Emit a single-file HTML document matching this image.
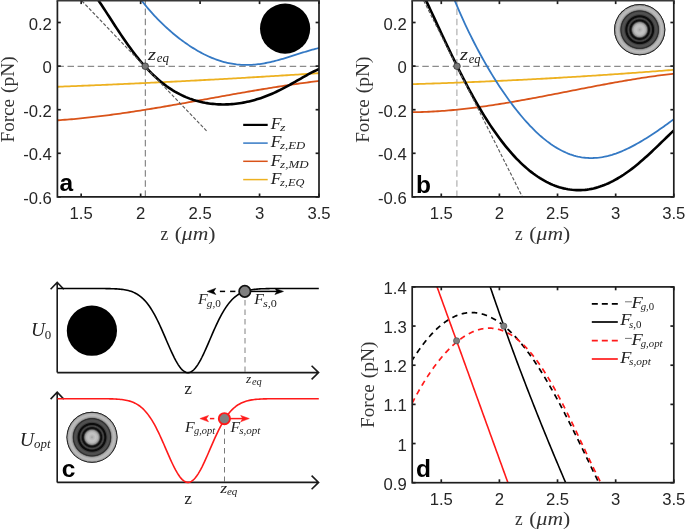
<!DOCTYPE html>
<html><head><meta charset="utf-8"><style>
html,body{margin:0;padding:0;background:#fff;}
body{width:685px;height:530px;overflow:hidden;position:relative;}
svg{position:absolute;left:0;top:0;will-change:transform;}
.tk text{font-family:"Liberation Sans",sans-serif;font-size:16.7px;fill:#262626;}
.sr{font-family:"Liberation Serif",serif;fill:#333;}
.it{font-family:"Liberation Serif",serif;font-style:italic;fill:#222;}
.bd{font-family:"Liberation Sans",sans-serif;font-weight:bold;fill:#000;}
</style></head><body>
<svg width="685" height="530" viewBox="0 0 685 530">
<defs>
<clipPath id="ca"><rect x="57.4" y="0.7" width="261.60" height="196.20"/></clipPath>
<clipPath id="cb"><rect x="412.2" y="0.7" width="261.60" height="196.20"/></clipPath>
<clipPath id="cd"><rect x="412.2" y="286.9" width="261.60" height="195.80"/></clipPath>
<radialGradient id="rg" cx="0.5" cy="0.5" r="0.5">
<stop offset="0" stop-color="#a0a0a0"/>
<stop offset="0.05" stop-color="#b4b4b4"/>
<stop offset="0.14" stop-color="#c4c4c4"/>
<stop offset="0.22" stop-color="#b8b8b8"/>
<stop offset="0.28" stop-color="#8e8e8e"/>
<stop offset="0.31" stop-color="#4a4a4a"/>
<stop offset="0.34" stop-color="#151515"/>
<stop offset="0.38" stop-color="#0c0c0c"/>
<stop offset="0.41" stop-color="#303030"/>
<stop offset="0.445" stop-color="#4a4a4a"/>
<stop offset="0.475" stop-color="#2e2e2e"/>
<stop offset="0.5" stop-color="#0c0c0c"/>
<stop offset="0.545" stop-color="#0c0c0c"/>
<stop offset="0.58" stop-color="#3c3c3c"/>
<stop offset="0.63" stop-color="#525252"/>
<stop offset="0.69" stop-color="#4c4c4c"/>
<stop offset="0.725" stop-color="#2c2c2c"/>
<stop offset="0.745" stop-color="#383838"/>
<stop offset="0.77" stop-color="#8c8c8c"/>
<stop offset="0.8" stop-color="#aaaaaa"/>
<stop offset="0.86" stop-color="#bdbdbd"/>
<stop offset="0.92" stop-color="#b0b0b0"/>
<stop offset="0.955" stop-color="#a0a0a0"/>
<stop offset="0.965" stop-color="#c8c8c8"/>
<stop offset="0.975" stop-color="#444"/>
<stop offset="1.0" stop-color="#1c1c1c"/>
</radialGradient>
</defs>
<g clip-path="url(#ca)" fill="none">
<line x1="57.4" y1="66.3" x2="319.0" y2="66.3" stroke="#6e6e6e" stroke-width="1" stroke-dasharray="6.5 3.6"/>
<line x1="145.3" y1="196.9" x2="145.3" y2="0.7" stroke="#6e6e6e" stroke-width="1" stroke-dasharray="6.5 3.6"/>
<path d="M56.00 86.81L58.22 86.73L60.44 86.64L62.66 86.56L64.87 86.47L67.09 86.38L69.31 86.30L71.53 86.21L73.75 86.12L75.97 86.04L78.18 85.95L80.40 85.86L82.62 85.77L84.84 85.68L87.06 85.59L89.28 85.50L91.50 85.40L93.71 85.31L95.93 85.22L98.15 85.13L100.37 85.03L102.59 84.94L104.81 84.84L107.03 84.75L109.24 84.65L111.46 84.55L113.68 84.46L115.90 84.36L118.12 84.26L120.34 84.16L122.55 84.06L124.77 83.96L126.99 83.86L129.21 83.76L131.43 83.66L133.65 83.56L135.87 83.46L138.08 83.35L140.30 83.25L142.52 83.14L144.74 83.04L146.96 82.93L149.18 82.83L151.39 82.72L153.61 82.62L155.83 82.51L158.05 82.40L160.27 82.29L162.49 82.18L164.71 82.07L166.92 81.96L169.14 81.85L171.36 81.74L173.58 81.63L175.80 81.52L178.02 81.41L180.24 81.29L182.45 81.18L184.67 81.06L186.89 80.95L189.11 80.83L191.33 80.72L193.55 80.60L195.76 80.49L197.98 80.37L200.20 80.25L202.42 80.13L204.64 80.01L206.86 79.89L209.08 79.77L211.29 79.65L213.51 79.53L215.73 79.41L217.95 79.29L220.17 79.16L222.39 79.04L224.61 78.92L226.82 78.79L229.04 78.67L231.26 78.54L233.48 78.42L235.70 78.29L237.92 78.16L240.13 78.03L242.35 77.91L244.57 77.78L246.79 77.65L249.01 77.52L251.23 77.39L253.45 77.26L255.66 77.13L257.88 76.99L260.10 76.86L262.32 76.73L264.54 76.60L266.76 76.46L268.97 76.33L271.19 76.19L273.41 76.06L275.63 75.92L277.85 75.78L280.07 75.65L282.29 75.51L284.50 75.37L286.72 75.23L288.94 75.09L291.16 74.95L293.38 74.81L295.60 74.67L297.82 74.53L300.03 74.39L302.25 74.24L304.47 74.10L306.69 73.96L308.91 73.81L311.13 73.67L313.34 73.52L315.56 73.38L317.78 73.23L320.00 73.09" stroke="#EDB120" stroke-width="1.8"/>
<path d="M56.00 120.41L58.22 120.26L60.44 120.11L62.66 119.94L64.87 119.77L67.09 119.60L69.31 119.42L71.53 119.23L73.75 119.03L75.97 118.83L78.18 118.62L80.40 118.40L82.62 118.18L84.84 117.95L87.06 117.71L89.28 117.47L91.50 117.23L93.71 116.97L95.93 116.72L98.15 116.45L100.37 116.18L102.59 115.91L104.81 115.63L107.03 115.35L109.24 115.06L111.46 114.76L113.68 114.46L115.90 114.16L118.12 113.85L120.34 113.54L122.55 113.22L124.77 112.90L126.99 112.57L129.21 112.24L131.43 111.91L133.65 111.57L135.87 111.23L138.08 110.89L140.30 110.54L142.52 110.19L144.74 109.83L146.96 109.47L149.18 109.11L151.39 108.75L153.61 108.38L155.83 108.01L158.05 107.64L160.27 107.27L162.49 106.89L164.71 106.51L166.92 106.13L169.14 105.75L171.36 105.36L173.58 104.97L175.80 104.59L178.02 104.19L180.24 103.80L182.45 103.41L184.67 103.02L186.89 102.62L189.11 102.22L191.33 101.82L193.55 101.43L195.76 101.03L197.98 100.63L200.20 100.23L202.42 99.83L204.64 99.42L206.86 99.02L209.08 98.62L211.29 98.22L213.51 97.82L215.73 97.42L217.95 97.02L220.17 96.62L222.39 96.22L224.61 95.82L226.82 95.42L229.04 95.02L231.26 94.63L233.48 94.23L235.70 93.84L237.92 93.45L240.13 93.06L242.35 92.67L244.57 92.28L246.79 91.89L249.01 91.51L251.23 91.13L253.45 90.75L255.66 90.37L257.88 89.99L260.10 89.62L262.32 89.25L264.54 88.88L266.76 88.52L268.97 88.15L271.19 87.79L273.41 87.44L275.63 87.09L277.85 86.74L280.07 86.39L282.29 86.05L284.50 85.71L286.72 85.37L288.94 85.04L291.16 84.71L293.38 84.39L295.60 84.07L297.82 83.76L300.03 83.45L302.25 83.14L304.47 82.84L306.69 82.54L308.91 82.25L311.13 81.96L313.34 81.68L315.56 81.40L317.78 81.13L320.00 80.87" stroke="#D95319" stroke-width="1.8"/>
<path d="M136.00 -7.16L137.55 -4.96L139.09 -2.83L140.64 -0.75L142.18 1.27L143.73 3.25L145.28 5.17L146.82 7.05L148.37 8.89L149.92 10.68L151.46 12.43L153.01 14.14L154.55 15.82L156.10 17.46L157.65 19.07L159.19 20.64L160.74 22.18L162.29 23.69L163.83 25.17L165.38 26.61L166.92 28.03L168.47 29.43L170.02 30.79L171.56 32.13L173.11 33.44L174.66 34.72L176.20 35.98L177.75 37.21L179.29 38.42L180.84 39.60L182.39 40.75L183.93 41.88L185.48 42.99L187.03 44.07L188.57 45.12L190.12 46.15L191.66 47.15L193.21 48.13L194.76 49.08L196.30 50.01L197.85 50.91L199.39 51.78L200.94 52.63L202.49 53.45L204.03 54.25L205.58 55.01L207.13 55.75L208.67 56.46L210.22 57.15L211.76 57.80L213.31 58.43L214.86 59.03L216.40 59.60L217.95 60.14L219.50 60.66L221.04 61.14L222.59 61.60L224.13 62.02L225.68 62.42L227.23 62.79L228.77 63.13L230.32 63.44L231.87 63.72L233.41 63.97L234.96 64.19L236.50 64.39L238.05 64.55L239.60 64.69L241.14 64.80L242.69 64.88L244.24 64.93L245.78 64.95L247.33 64.95L248.87 64.92L250.42 64.87L251.97 64.79L253.51 64.68L255.06 64.55L256.61 64.40L258.15 64.22L259.70 64.02L261.24 63.80L262.79 63.55L264.34 63.29L265.88 63.00L267.43 62.70L268.97 62.37L270.52 62.03L272.07 61.67L273.61 61.30L275.16 60.91L276.71 60.50L278.25 60.09L279.80 59.66L281.34 59.22L282.89 58.77L284.44 58.31L285.98 57.84L287.53 57.37L289.08 56.89L290.62 56.40L292.17 55.91L293.71 55.42L295.26 54.93L296.81 54.44L298.35 53.94L299.90 53.45L301.45 52.97L302.99 52.48L304.54 52.01L306.08 51.53L307.63 51.07L309.18 50.61L310.72 50.17L312.27 49.73L313.82 49.31L315.36 48.90L316.91 48.50L318.45 48.11L320.00 47.74" stroke="#3479c4" stroke-width="1.8"/>
<path d="M92.00 -8.76L93.92 -6.14L95.83 -3.44L97.75 -0.67L99.66 2.16L101.58 5.04L103.50 7.96L105.41 10.90L107.33 13.86L109.24 16.82L111.16 19.79L113.08 22.75L114.99 25.70L116.91 28.63L118.82 31.53L120.74 34.39L122.66 37.23L124.57 40.02L126.49 42.76L128.40 45.46L130.32 48.10L132.24 50.69L134.15 53.22L136.07 55.69L137.98 58.10L139.90 60.45L141.82 62.73L143.73 64.94L145.65 67.09L147.56 69.17L149.48 71.19L151.39 73.13L153.31 75.01L155.23 76.82L157.14 78.56L159.06 80.24L160.97 81.85L162.89 83.39L164.81 84.86L166.72 86.28L168.64 87.63L170.55 88.91L172.47 90.14L174.39 91.31L176.30 92.41L178.22 93.46L180.13 94.46L182.05 95.39L183.97 96.28L185.88 97.11L187.80 97.89L189.71 98.62L191.63 99.30L193.55 99.94L195.46 100.53L197.38 101.07L199.29 101.57L201.21 102.02L203.13 102.43L205.04 102.81L206.96 103.14L208.87 103.43L210.79 103.68L212.71 103.90L214.62 104.08L216.54 104.22L218.45 104.33L220.37 104.40L222.29 104.44L224.20 104.44L226.12 104.41L228.03 104.34L229.95 104.24L231.87 104.11L233.78 103.94L235.70 103.74L237.61 103.51L239.53 103.25L241.45 102.95L243.36 102.62L245.28 102.25L247.19 101.85L249.11 101.42L251.03 100.96L252.94 100.46L254.86 99.93L256.77 99.37L258.69 98.77L260.61 98.14L262.52 97.48L264.44 96.78L266.35 96.06L268.27 95.30L270.18 94.50L272.10 93.68L274.02 92.83L275.93 91.95L277.85 91.04L279.76 90.10L281.68 89.14L283.60 88.15L285.51 87.14L287.43 86.11L289.34 85.06L291.26 83.99L293.18 82.91L295.09 81.83L297.01 80.73L298.92 79.63L300.84 78.53L302.76 77.43L304.67 76.35L306.59 75.28L308.50 74.23L310.42 73.20L312.34 72.21L314.25 71.25L316.17 70.34L318.08 69.49L320.00 68.70" stroke="#000" stroke-width="2.6"/>
<line x1="81.8" y1="0.8" x2="206.7" y2="131" stroke="#5a5a5a" stroke-width="1.15" stroke-dasharray="3.4 1.8"/>
</g>
<circle cx="145.2" cy="66.2" r="3.3" fill="#777" stroke="#333" stroke-width="0.8"/>
<circle cx="285.1" cy="28.6" r="25.1" fill="#000"/>
<g clip-path="url(#cb)" fill="none">
<line x1="412.2" y1="66.3" x2="673.8" y2="66.3" stroke="#6e6e6e" stroke-width="1" stroke-dasharray="6.5 3.6"/>
<line x1="456.9" y1="196.9" x2="456.9" y2="0.7" stroke="#a8a8a8" stroke-width="1.1" stroke-dasharray="6.5 3.6"/>
<path d="M411.00 84.20L413.22 84.13L415.44 84.06L417.66 84.00L419.87 83.93L422.09 83.86L424.31 83.79L426.53 83.72L428.75 83.65L430.97 83.58L433.18 83.50L435.40 83.43L437.62 83.35L439.84 83.28L442.06 83.20L444.28 83.12L446.50 83.04L448.71 82.96L450.93 82.88L453.15 82.80L455.37 82.72L457.59 82.63L459.81 82.55L462.03 82.46L464.24 82.38L466.46 82.29L468.68 82.20L470.90 82.11L473.12 82.02L475.34 81.93L477.55 81.83L479.77 81.74L481.99 81.65L484.21 81.55L486.43 81.45L488.65 81.36L490.87 81.26L493.08 81.16L495.30 81.06L497.52 80.96L499.74 80.85L501.96 80.75L504.18 80.65L506.39 80.54L508.61 80.43L510.83 80.33L513.05 80.22L515.27 80.11L517.49 80.00L519.71 79.89L521.92 79.78L524.14 79.66L526.36 79.55L528.58 79.44L530.80 79.32L533.02 79.20L535.24 79.09L537.45 78.97L539.67 78.85L541.89 78.73L544.11 78.60L546.33 78.48L548.55 78.36L550.76 78.23L552.98 78.11L555.20 77.98L557.42 77.86L559.64 77.73L561.86 77.60L564.08 77.47L566.29 77.34L568.51 77.20L570.73 77.07L572.95 76.94L575.17 76.80L577.39 76.67L579.61 76.53L581.82 76.39L584.04 76.25L586.26 76.11L588.48 75.97L590.70 75.83L592.92 75.69L595.13 75.54L597.35 75.40L599.57 75.25L601.79 75.11L604.01 74.96L606.23 74.81L608.45 74.66L610.66 74.51L612.88 74.36L615.10 74.21L617.32 74.05L619.54 73.90L621.76 73.74L623.97 73.59L626.19 73.43L628.41 73.27L630.63 73.11L632.85 72.95L635.07 72.79L637.29 72.63L639.50 72.47L641.72 72.30L643.94 72.14L646.16 71.97L648.38 71.80L650.60 71.64L652.82 71.47L655.03 71.30L657.25 71.13L659.47 70.95L661.69 70.78L663.91 70.61L666.13 70.43L668.34 70.26L670.56 70.08L672.78 69.90L675.00 69.73" stroke="#EDB120" stroke-width="1.8"/>
<path d="M411.00 112.19L413.22 112.17L415.44 112.14L417.66 112.10L419.87 112.05L422.09 111.99L424.31 111.92L426.53 111.83L428.75 111.74L430.97 111.63L433.18 111.51L435.40 111.39L437.62 111.25L439.84 111.10L442.06 110.95L444.28 110.78L446.50 110.60L448.71 110.42L450.93 110.23L453.15 110.02L455.37 109.81L457.59 109.59L459.81 109.36L462.03 109.12L464.24 108.88L466.46 108.63L468.68 108.37L470.90 108.10L473.12 107.82L475.34 107.54L477.55 107.25L479.77 106.95L481.99 106.65L484.21 106.34L486.43 106.02L488.65 105.70L490.87 105.37L493.08 105.03L495.30 104.69L497.52 104.35L499.74 103.99L501.96 103.64L504.18 103.27L506.39 102.91L508.61 102.54L510.83 102.16L513.05 101.78L515.27 101.39L517.49 101.01L519.71 100.61L521.92 100.22L524.14 99.82L526.36 99.41L528.58 99.01L530.80 98.60L533.02 98.19L535.24 97.77L537.45 97.35L539.67 96.93L541.89 96.51L544.11 96.09L546.33 95.66L548.55 95.23L550.76 94.80L552.98 94.37L555.20 93.94L557.42 93.51L559.64 93.07L561.86 92.64L564.08 92.21L566.29 91.77L568.51 91.33L570.73 90.90L572.95 90.46L575.17 90.03L577.39 89.60L579.61 89.16L581.82 88.73L584.04 88.30L586.26 87.87L588.48 87.44L590.70 87.01L592.92 86.58L595.13 86.16L597.35 85.74L599.57 85.32L601.79 84.90L604.01 84.49L606.23 84.07L608.45 83.66L610.66 83.26L612.88 82.85L615.10 82.45L617.32 82.06L619.54 81.67L621.76 81.28L623.97 80.89L626.19 80.51L628.41 80.14L630.63 79.77L632.85 79.40L635.07 79.04L637.29 78.68L639.50 78.33L641.72 77.98L643.94 77.64L646.16 77.31L648.38 76.98L650.60 76.66L652.82 76.34L655.03 76.03L657.25 75.73L659.47 75.43L661.69 75.14L663.91 74.86L666.13 74.58L668.34 74.31L670.56 74.05L672.78 73.80L675.00 73.56" stroke="#D95319" stroke-width="1.8"/>
<path d="M448.00 -16.51L449.91 -11.53L451.82 -6.67L453.72 -1.93L455.63 2.69L457.54 7.21L459.45 11.62L461.35 15.94L463.26 20.16L465.17 24.29L467.08 28.34L468.98 32.30L470.89 36.18L472.80 39.99L474.71 43.72L476.61 47.38L478.52 50.97L480.43 54.50L482.34 57.96L484.24 61.35L486.15 64.69L488.06 67.96L489.97 71.18L491.87 74.34L493.78 77.44L495.69 80.48L497.60 83.46L499.50 86.40L501.41 89.27L503.32 92.09L505.23 94.86L507.13 97.57L509.04 100.23L510.95 102.83L512.86 105.37L514.76 107.86L516.67 110.30L518.58 112.68L520.49 115.00L522.39 117.27L524.30 119.48L526.21 121.63L528.12 123.73L530.03 125.77L531.93 127.74L533.84 129.66L535.75 131.52L537.66 133.32L539.56 135.06L541.47 136.73L543.38 138.35L545.29 139.90L547.19 141.39L549.10 142.81L551.01 144.18L552.92 145.48L554.82 146.71L556.73 147.89L558.64 148.99L560.55 150.04L562.45 151.01L564.36 151.93L566.27 152.78L568.18 153.56L570.08 154.28L571.99 154.94L573.90 155.53L575.81 156.06L577.71 156.52L579.62 156.93L581.53 157.27L583.44 157.54L585.34 157.76L587.25 157.91L589.16 158.01L591.07 158.05L592.97 158.02L594.88 157.94L596.79 157.80L598.70 157.61L600.61 157.36L602.51 157.06L604.42 156.70L606.33 156.29L608.24 155.84L610.14 155.33L612.05 154.78L613.96 154.17L615.87 153.53L617.77 152.84L619.68 152.10L621.59 151.33L623.50 150.51L625.40 149.66L627.31 148.77L629.22 147.85L631.13 146.89L633.03 145.89L634.94 144.87L636.85 143.82L638.76 142.74L640.66 141.63L642.57 140.50L644.48 139.34L646.39 138.16L648.29 136.95L650.20 135.73L652.11 134.48L654.02 133.22L655.92 131.94L657.83 130.64L659.74 129.33L661.65 128.00L663.55 126.66L665.46 125.30L667.37 123.93L669.28 122.54L671.18 121.14L673.09 119.73L675.00 118.30" stroke="#3479c4" stroke-width="1.8"/>
<path d="M420.00 -12.05L422.14 -7.64L424.29 -3.17L426.43 1.34L428.57 5.89L430.71 10.46L432.86 15.05L435.00 19.65L437.14 24.25L439.29 28.85L441.43 33.44L443.57 38.02L445.71 42.57L447.86 47.09L450.00 51.57L452.14 56.02L454.29 60.43L456.43 64.79L458.57 69.10L460.71 73.36L462.86 77.55L465.00 81.69L467.14 85.77L469.29 89.78L471.43 93.72L473.57 97.59L475.71 101.39L477.86 105.11L480.00 108.76L482.14 112.33L484.29 115.83L486.43 119.25L488.57 122.58L490.71 125.84L492.86 129.01L495.00 132.11L497.14 135.12L499.29 138.05L501.43 140.90L503.57 143.66L505.71 146.35L507.86 148.94L510.00 151.46L512.14 153.90L514.29 156.25L516.43 158.52L518.57 160.71L520.71 162.81L522.86 164.84L525.00 166.78L527.14 168.64L529.29 170.43L531.43 172.13L533.57 173.76L535.71 175.30L537.86 176.77L540.00 178.16L542.14 179.47L544.29 180.70L546.43 181.85L548.57 182.93L550.71 183.94L552.86 184.86L555.00 185.71L557.14 186.49L559.29 187.19L561.43 187.81L563.57 188.37L565.71 188.84L567.86 189.25L570.00 189.58L572.14 189.83L574.29 190.01L576.43 190.12L578.57 190.16L580.71 190.13L582.86 190.02L585.00 189.84L587.14 189.59L589.29 189.26L591.43 188.87L593.57 188.40L595.71 187.87L597.86 187.26L600.00 186.59L602.14 185.84L604.29 185.03L606.43 184.15L608.57 183.20L610.71 182.19L612.86 181.11L615.00 179.96L617.14 178.75L619.29 177.48L621.43 176.14L623.57 174.75L625.71 173.29L627.86 171.78L630.00 170.21L632.14 168.59L634.29 166.91L636.43 165.19L638.57 163.42L640.71 161.60L642.86 159.74L645.00 157.84L647.14 155.91L649.29 153.94L651.43 151.95L653.57 149.92L655.71 147.88L657.86 145.82L660.00 143.76L662.14 141.68L664.29 139.60L666.43 137.53L668.57 135.47L670.71 133.43L672.86 131.41L675.00 129.43" stroke="#000" stroke-width="2.6"/>
<line x1="423.7" y1="0.7" x2="522.4" y2="196.9" stroke="#5a5a5a" stroke-width="1.15" stroke-dasharray="3.4 1.8"/>
</g>
<circle cx="457" cy="66.2" r="3.3" fill="#777" stroke="#333" stroke-width="0.8"/>
<circle cx="639.7" cy="29.7" r="25.6" fill="url(#rg)"/><circle cx="639.7" cy="29.7" r="25.1" fill="none" stroke="#222" stroke-width="0.9"/>
<g clip-path="url(#cd)" fill="none">
<path d="M411.00 362.18L411.47 361.40L411.95 360.64L412.42 359.88L412.89 359.12L413.37 358.37L413.84 357.63L414.32 356.89L414.79 356.16L415.26 355.44L415.74 354.72L416.21 354.01L416.68 353.30L417.16 352.60L417.63 351.91L418.11 351.22L418.58 350.54L419.05 349.86L419.53 349.19L420.00 348.53L420.47 347.87L420.95 347.22L421.42 346.57L421.89 345.93L422.37 345.30L422.84 344.67L423.32 344.05L423.79 343.44L424.26 342.83L424.74 342.22L425.21 341.63L425.68 341.03L426.16 340.45L426.63 339.87L427.11 339.30L427.58 338.73L428.05 338.17L428.53 337.62L429.00 337.07L429.47 336.53L429.95 335.99L430.42 335.46L430.89 334.93L431.37 334.42L431.84 333.90L432.32 333.40L432.79 332.90L433.26 332.40L433.74 331.92L434.21 331.43L434.68 330.96L435.16 330.49L435.63 330.03L436.11 329.57L436.58 329.12L437.05 328.67L437.53 328.23L438.00 327.80L438.47 327.37L438.95 326.95L439.42 326.54L439.89 326.13L440.37 325.73L440.84 325.33L441.32 324.94L441.79 324.56L442.26 324.18L442.74 323.81L443.21 323.44L443.68 323.08L444.16 322.73L444.63 322.38L445.11 322.04L445.58 321.70L446.05 321.37L446.53 321.05L447.00 320.73L447.47 320.42L447.95 320.12L448.42 319.82L448.89 319.52L449.37 319.24L449.84 318.96L450.32 318.68L450.79 318.41L451.26 318.15L451.74 317.89L452.21 317.64L452.68 317.40L453.16 317.16L453.63 316.93L454.11 316.70L454.58 316.48L455.05 316.27L455.53 316.06L456.00 315.86L456.47 315.66L456.95 315.47L457.42 315.29L457.89 315.11L458.37 314.94L458.84 314.77L459.32 314.61L459.79 314.46L460.26 314.31L460.74 314.17L461.21 314.03L461.68 313.90L462.16 313.78L462.63 313.66L463.11 313.55L463.58 313.44L464.05 313.34L464.53 313.25L465.00 313.16L465.47 313.08L465.95 313.01L466.42 312.94L466.89 312.87L467.37 312.82L467.84 312.76L468.32 312.72L468.79 312.68L469.26 312.64L469.74 312.62L470.21 312.59L470.68 312.58L471.16 312.57L471.63 312.56L472.11 312.57L472.58 312.57L473.05 312.59L473.53 312.61L474.00 312.63L474.47 312.66L474.95 312.70L475.42 312.75L475.89 312.79L476.37 312.85L476.84 312.91L477.32 312.98L477.79 313.05L478.26 313.13L478.74 313.21L479.21 313.30L479.68 313.40L480.16 313.50L480.63 313.61L481.11 313.72L481.58 313.84L482.05 313.97L482.53 314.10L483.00 314.24L483.47 314.38L483.95 314.53L484.42 314.68L484.89 314.84L485.37 315.01L485.84 315.18L486.32 315.35L486.79 315.54L487.26 315.73L487.74 315.92L488.21 316.12L488.68 316.33L489.16 316.54L489.63 316.75L490.11 316.98L490.58 317.21L491.05 317.44L491.53 317.68L492.00 317.93L492.47 318.18L492.95 318.43L493.42 318.70L493.89 318.96L494.37 319.24L494.84 319.52L495.32 319.80L495.79 320.09L496.26 320.39L496.74 320.69L497.21 320.99L497.68 321.31L498.16 321.62L498.63 321.95L499.11 322.28L499.58 322.61L500.05 322.95L500.53 323.30L501.00 323.65L501.47 324.00L501.95 324.36L502.42 324.73L502.89 325.10L503.37 325.48L503.84 325.86L504.32 326.25L504.79 326.65L505.26 327.04L505.74 327.45L506.21 327.86L506.68 328.27L507.16 328.69L507.63 329.12L508.11 329.55L508.58 329.99L509.05 330.43L509.53 330.87L510.00 331.32L510.47 331.78L510.95 332.24L511.42 332.71L511.89 333.18L512.37 333.66L512.84 334.14L513.32 334.63L513.79 335.12L514.26 335.62L514.74 336.12L515.21 336.63L515.68 337.14L516.16 337.66L516.63 338.18L517.11 338.71L517.58 339.24L518.05 339.78L518.53 340.32L519.00 340.87L519.47 341.42L519.95 341.98L520.42 342.54L520.89 343.11L521.37 343.68L521.84 344.26L522.32 344.84L522.79 345.42L523.26 346.01L523.74 346.61L524.21 347.21L524.68 347.81L525.16 348.42L525.63 349.04L526.11 349.65L526.58 350.28L527.05 350.91L527.53 351.54L528.00 352.17L528.47 352.82L528.95 353.46L529.42 354.11L529.89 354.77L530.37 355.43L530.84 356.09L531.32 356.76L531.79 357.43L532.26 358.11L532.74 358.79L533.21 359.47L533.68 360.16L534.16 360.85L534.63 361.55L535.11 362.26L535.58 362.96L536.05 363.67L536.53 364.39L537.00 365.11L537.47 365.83L537.95 366.56L538.42 367.29L538.89 368.02L539.37 368.76L539.84 369.50L540.32 370.25L540.79 371.00L541.26 371.76L541.74 372.52L542.21 373.28L542.68 374.04L543.16 374.81L543.63 375.59L544.11 376.37L544.58 377.15L545.05 377.93L545.53 378.72L546.00 379.51L546.47 380.31L546.95 381.11L547.42 381.91L547.89 382.72L548.37 383.53L548.84 384.34L549.32 385.16L549.79 385.98L550.26 386.80L550.74 387.63L551.21 388.46L551.68 389.30L552.16 390.13L552.63 390.97L553.11 391.82L553.58 392.66L554.05 393.51L554.53 394.37L555.00 395.22L555.47 396.08L555.95 396.94L556.42 397.81L556.89 398.68L557.37 399.55L557.84 400.42L558.32 401.30L558.79 402.18L559.26 403.06L559.74 403.94L560.21 404.83L560.68 405.72L561.16 406.62L561.63 407.51L562.11 408.41L562.58 409.31L563.05 410.22L563.53 411.12L564.00 412.03L564.47 412.94L564.95 413.85L565.42 414.77L565.89 415.69L566.37 416.61L566.84 417.53L567.32 418.45L567.79 419.38L568.26 420.31L568.74 421.24L569.21 422.17L569.68 423.11L570.16 424.05L570.63 424.99L571.11 425.93L571.58 426.87L572.05 427.81L572.53 428.76L573.00 429.71L573.47 430.66L573.95 431.61L574.42 432.56L574.89 433.52L575.37 434.48L575.84 435.43L576.32 436.39L576.79 437.35L577.26 438.32L577.74 439.28L578.21 440.24L578.68 441.21L579.16 442.18L579.63 443.15L580.11 444.12L580.58 445.09L581.05 446.06L581.53 447.03L582.00 448.00L582.47 448.98L582.95 449.95L583.42 450.93L583.89 451.91L584.37 452.89L584.84 453.86L585.32 454.84L585.79 455.82L586.26 456.80L586.74 457.78L587.21 458.77L587.68 459.75L588.16 460.73L588.63 461.71L589.11 462.70L589.58 463.68L590.05 464.66L590.53 465.64L591.00 466.63L591.47 467.61L591.95 468.59L592.42 469.58L592.89 470.56L593.37 471.54L593.84 472.53L594.32 473.51L594.79 474.49L595.26 475.47L595.74 476.46L596.21 477.44L596.68 478.42L597.16 479.40L597.63 480.38L598.11 481.36L598.58 482.33L599.05 483.31L599.53 484.29L600.00 485.26" stroke="#000" stroke-width="1.7" stroke-dasharray="5.6 4.50" stroke-dashoffset="9.20"/>
<path d="M411.00 405.46L411.48 404.51L411.96 403.57L412.44 402.64L412.91 401.71L413.39 400.79L413.87 399.87L414.35 398.96L414.83 398.06L415.31 397.17L415.79 396.28L416.27 395.40L416.74 394.52L417.22 393.65L417.70 392.79L418.18 391.94L418.66 391.09L419.14 390.24L419.62 389.41L420.10 388.58L420.57 387.75L421.05 386.93L421.53 386.12L422.01 385.31L422.49 384.52L422.97 383.72L423.45 382.93L423.92 382.15L424.40 381.38L424.88 380.61L425.36 379.84L425.84 379.08L426.32 378.33L426.80 377.59L427.28 376.85L427.75 376.11L428.23 375.38L428.71 374.66L429.19 373.94L429.67 373.23L430.15 372.53L430.63 371.83L431.11 371.13L431.58 370.44L432.06 369.76L432.54 369.08L433.02 368.41L433.50 367.75L433.98 367.09L434.46 366.43L434.93 365.78L435.41 365.14L435.89 364.50L436.37 363.87L436.85 363.24L437.33 362.62L437.81 362.00L438.29 361.39L438.76 360.79L439.24 360.19L439.72 359.60L440.20 359.01L440.68 358.42L441.16 357.85L441.64 357.27L442.12 356.71L442.59 356.15L443.07 355.59L443.55 355.04L444.03 354.49L444.51 353.95L444.99 353.42L445.47 352.89L445.94 352.37L446.42 351.85L446.90 351.34L447.38 350.83L447.86 350.33L448.34 349.83L448.82 349.34L449.30 348.86L449.77 348.38L450.25 347.90L450.73 347.43L451.21 346.97L451.69 346.51L452.17 346.06L452.65 345.61L453.13 345.17L453.60 344.73L454.08 344.30L454.56 343.87L455.04 343.45L455.52 343.04L456.00 342.63L456.48 342.23L456.95 341.83L457.43 341.44L457.91 341.05L458.39 340.67L458.87 340.29L459.35 339.92L459.83 339.55L460.31 339.19L460.78 338.84L461.26 338.49L461.74 338.15L462.22 337.81L462.70 337.48L463.18 337.15L463.66 336.83L464.14 336.51L464.61 336.21L465.09 335.90L465.57 335.60L466.05 335.31L466.53 335.02L467.01 334.74L467.49 334.47L467.96 334.20L468.44 333.93L468.92 333.67L469.40 333.42L469.88 333.17L470.36 332.93L470.84 332.70L471.32 332.47L471.79 332.24L472.27 332.02L472.75 331.81L473.23 331.61L473.71 331.41L474.19 331.21L474.67 331.02L475.15 330.84L475.62 330.66L476.10 330.49L476.58 330.32L477.06 330.17L477.54 330.01L478.02 329.86L478.50 329.72L478.97 329.59L479.45 329.46L479.93 329.33L480.41 329.22L480.89 329.11L481.37 329.00L481.85 328.90L482.33 328.81L482.80 328.72L483.28 328.64L483.76 328.57L484.24 328.50L484.72 328.44L485.20 328.38L485.68 328.33L486.16 328.29L486.63 328.25L487.11 328.22L487.59 328.19L488.07 328.17L488.55 328.16L489.03 328.15L489.51 328.15L489.98 328.16L490.46 328.17L490.94 328.19L491.42 328.22L491.90 328.25L492.38 328.29L492.86 328.33L493.34 328.38L493.81 328.44L494.29 328.50L494.77 328.57L495.25 328.65L495.73 328.73L496.21 328.82L496.69 328.92L497.17 329.02L497.64 329.13L498.12 329.25L498.60 329.37L499.08 329.50L499.56 329.63L500.04 329.77L500.52 329.92L500.99 330.08L501.47 330.24L501.95 330.41L502.43 330.58L502.91 330.76L503.39 330.95L503.87 331.15L504.35 331.35L504.82 331.55L505.30 331.77L505.78 331.99L506.26 332.22L506.74 332.45L507.22 332.69L507.70 332.94L508.18 333.20L508.65 333.46L509.13 333.73L509.61 334.00L510.09 334.28L510.57 334.57L511.05 334.86L511.53 335.17L512.01 335.47L512.48 335.79L512.96 336.11L513.44 336.44L513.92 336.77L514.40 337.12L514.88 337.47L515.36 337.82L515.83 338.18L516.31 338.55L516.79 338.93L517.27 339.31L517.75 339.70L518.23 340.09L518.71 340.50L519.19 340.90L519.66 341.32L520.14 341.74L520.62 342.17L521.10 342.61L521.58 343.05L522.06 343.50L522.54 343.96L523.02 344.42L523.49 344.89L523.97 345.36L524.45 345.85L524.93 346.34L525.41 346.83L525.89 347.33L526.37 347.84L526.84 348.36L527.32 348.88L527.80 349.41L528.28 349.95L528.76 350.49L529.24 351.04L529.72 351.59L530.20 352.15L530.67 352.72L531.15 353.29L531.63 353.88L532.11 354.46L532.59 355.06L533.07 355.66L533.55 356.26L534.03 356.88L534.50 357.49L534.98 358.12L535.46 358.75L535.94 359.39L536.42 360.03L536.90 360.68L537.38 361.34L537.85 362.00L538.33 362.67L538.81 363.35L539.29 364.03L539.77 364.72L540.25 365.41L540.73 366.11L541.21 366.82L541.68 367.53L542.16 368.24L542.64 368.97L543.12 369.70L543.60 370.43L544.08 371.17L544.56 371.92L545.04 372.67L545.51 373.43L545.99 374.19L546.47 374.96L546.95 375.74L547.43 376.52L547.91 377.30L548.39 378.09L548.86 378.89L549.34 379.69L549.82 380.50L550.30 381.31L550.78 382.13L551.26 382.95L551.74 383.78L552.22 384.61L552.69 385.45L553.17 386.29L553.65 387.14L554.13 387.99L554.61 388.85L555.09 389.71L555.57 390.58L556.05 391.45L556.52 392.33L557.00 393.21L557.48 394.10L557.96 394.99L558.44 395.88L558.92 396.78L559.40 397.68L559.87 398.59L560.35 399.50L560.83 400.42L561.31 401.34L561.79 402.26L562.27 403.19L562.75 404.12L563.23 405.06L563.70 406.00L564.18 406.94L564.66 407.88L565.14 408.83L565.62 409.79L566.10 410.74L566.58 411.70L567.06 412.66L567.53 413.63L568.01 414.60L568.49 415.57L568.97 416.54L569.45 417.52L569.93 418.50L570.41 419.48L570.88 420.47L571.36 421.46L571.84 422.45L572.32 423.44L572.80 424.43L573.28 425.43L573.76 426.43L574.24 427.43L574.71 428.43L575.19 429.43L575.67 430.44L576.15 431.45L576.63 432.46L577.11 433.47L577.59 434.48L578.07 435.49L578.54 436.50L579.02 437.52L579.50 438.53L579.98 439.55L580.46 440.56L580.94 441.58L581.42 442.60L581.89 443.61L582.37 444.63L582.85 445.65L583.33 446.67L583.81 447.69L584.29 448.70L584.77 449.72L585.25 450.74L585.72 451.75L586.20 452.77L586.68 453.78L587.16 454.79L587.64 455.81L588.12 456.82L588.60 457.83L589.08 458.83L589.55 459.84L590.03 460.84L590.51 461.85L590.99 462.85L591.47 463.85L591.95 464.84L592.43 465.83L592.90 466.83L593.38 467.81L593.86 468.80L594.34 469.78L594.82 470.76L595.30 471.74L595.78 472.71L596.26 473.68L596.73 474.64L597.21 475.60L597.69 476.56L598.17 477.51L598.65 478.46L599.13 479.41L599.61 480.35L600.09 481.28L600.56 482.21L601.04 483.13L601.52 484.05L602.00 484.97" stroke="#ff1a1a" stroke-width="1.7" stroke-dasharray="5.6 4.50" stroke-dashoffset="7.74"/>
<path d="M489.25 284.00L490.40 287.41L491.57 290.81L492.74 294.22L493.91 297.63L495.09 301.03L496.28 304.44L497.47 307.85L498.66 311.25L499.86 314.66L501.07 318.07L502.28 321.47L503.50 324.88L504.72 328.29L505.95 331.69L507.18 335.10L508.42 338.51L509.66 341.92L510.91 345.32L512.17 348.73L513.42 352.14L514.69 355.54L515.96 358.95L517.23 362.36L518.51 365.76L519.80 369.17L521.09 372.58L522.39 375.98L523.69 379.39L525.00 382.80L526.31 386.20L527.62 389.61L528.95 393.02L530.28 396.42L531.61 399.83L532.95 403.24L534.29 406.64L535.64 410.05L536.99 413.46L538.35 416.86L539.72 420.27L541.09 423.68L542.47 427.08L543.85 430.49L545.23 433.90L546.62 437.31L548.02 440.71L549.42 444.12L550.83 447.53L552.24 450.93L553.66 454.34L555.08 457.75L556.51 461.15L557.95 464.56L559.39 467.97L560.83 471.37L562.28 474.78L563.73 478.19L565.20 481.59L566.66 485.00" stroke="#000" stroke-width="1.6"/>
<path d="M436.01 284.00L437.24 287.41L438.48 290.81L439.71 294.22L440.94 297.63L442.18 301.03L443.41 304.44L444.64 307.85L445.87 311.25L447.11 314.66L448.34 318.07L449.57 321.47L450.81 324.88L452.04 328.29L453.27 331.69L454.50 335.10L455.74 338.51L456.97 341.92L458.20 345.32L459.44 348.73L460.67 352.14L461.90 355.54L463.14 358.95L464.37 362.36L465.60 365.76L466.83 369.17L468.07 372.58L469.30 375.98L470.53 379.39L471.77 382.80L473.00 386.20L474.23 389.61L475.46 393.02L476.70 396.42L477.93 399.83L479.16 403.24L480.40 406.64L481.63 410.05L482.86 413.46L484.10 416.86L485.33 420.27L486.56 423.68L487.79 427.08L489.03 430.49L490.26 433.90L491.49 437.31L492.73 440.71L493.96 444.12L495.19 447.53L496.42 450.93L497.66 454.34L498.89 457.75L500.12 461.15L501.36 464.56L502.59 467.97L503.82 471.37L505.06 474.78L506.29 478.19L507.52 481.59L508.75 485.00" stroke="#ff1a1a" stroke-width="1.6"/>
</g>
<circle cx="503.8" cy="326.1" r="3.1" fill="#808080" stroke="#505050" stroke-width="0.7"/>
<circle cx="456.6" cy="340.8" r="3.1" fill="#808080" stroke="#505050" stroke-width="0.7"/>
<g stroke="#1e1e1e" stroke-width="1.7" fill="none"><line x1="81.18" y1="196.9" x2="81.18" y2="193.5"/><line x1="81.18" y1="0.7" x2="81.18" y2="4.1"/><line x1="140.64" y1="196.9" x2="140.64" y2="193.5"/><line x1="140.64" y1="0.7" x2="140.64" y2="4.1"/><line x1="200.09" y1="196.9" x2="200.09" y2="193.5"/><line x1="200.09" y1="0.7" x2="200.09" y2="4.1"/><line x1="259.55" y1="196.9" x2="259.55" y2="193.5"/><line x1="259.55" y1="0.7" x2="259.55" y2="4.1"/><line x1="319.00" y1="196.9" x2="319.00" y2="193.5"/><line x1="319.00" y1="0.7" x2="319.00" y2="4.1"/><line x1="57.4" y1="22.50" x2="60.8" y2="22.50"/><line x1="319.0" y1="22.50" x2="315.6" y2="22.50"/><line x1="57.4" y1="66.10" x2="60.8" y2="66.10"/><line x1="319.0" y1="66.10" x2="315.6" y2="66.10"/><line x1="57.4" y1="109.70" x2="60.8" y2="109.70"/><line x1="319.0" y1="109.70" x2="315.6" y2="109.70"/><line x1="57.4" y1="153.30" x2="60.8" y2="153.30"/><line x1="319.0" y1="153.30" x2="315.6" y2="153.30"/><line x1="57.4" y1="196.90" x2="60.8" y2="196.90"/><line x1="319.0" y1="196.90" x2="315.6" y2="196.90"/><path d="M57.4 0.7 L57.4 196.9 L319.0 196.9 L319.0 0.7" fill="none"/><line x1="56.55" y1="0.7" x2="319.85" y2="0.7" stroke="#383838"/></g>
<g class="tk"><text x="81.18" y="219.10" text-anchor="middle">1.5</text><text x="140.64" y="219.10" text-anchor="middle">2</text><text x="200.09" y="219.10" text-anchor="middle">2.5</text><text x="259.55" y="219.10" text-anchor="middle">3</text><text x="319.00" y="219.10" text-anchor="middle">3.5</text><text x="51.90" y="29.60" text-anchor="end">0.2</text><text x="51.90" y="73.20" text-anchor="end">0</text><text x="51.90" y="116.80" text-anchor="end">-0.2</text><text x="51.90" y="160.40" text-anchor="end">-0.4</text><text x="51.90" y="204.00" text-anchor="end">-0.6</text></g>
<g stroke="#1e1e1e" stroke-width="1.7" fill="none"><line x1="441.27" y1="196.9" x2="441.27" y2="193.5"/><line x1="441.27" y1="0.7" x2="441.27" y2="4.1"/><line x1="499.40" y1="196.9" x2="499.40" y2="193.5"/><line x1="499.40" y1="0.7" x2="499.40" y2="4.1"/><line x1="557.53" y1="196.9" x2="557.53" y2="193.5"/><line x1="557.53" y1="0.7" x2="557.53" y2="4.1"/><line x1="615.67" y1="196.9" x2="615.67" y2="193.5"/><line x1="615.67" y1="0.7" x2="615.67" y2="4.1"/><line x1="673.80" y1="196.9" x2="673.80" y2="193.5"/><line x1="673.80" y1="0.7" x2="673.80" y2="4.1"/><line x1="412.2" y1="22.50" x2="415.59999999999997" y2="22.50"/><line x1="673.8" y1="22.50" x2="670.4" y2="22.50"/><line x1="412.2" y1="66.10" x2="415.59999999999997" y2="66.10"/><line x1="673.8" y1="66.10" x2="670.4" y2="66.10"/><line x1="412.2" y1="109.70" x2="415.59999999999997" y2="109.70"/><line x1="673.8" y1="109.70" x2="670.4" y2="109.70"/><line x1="412.2" y1="153.30" x2="415.59999999999997" y2="153.30"/><line x1="673.8" y1="153.30" x2="670.4" y2="153.30"/><line x1="412.2" y1="196.90" x2="415.59999999999997" y2="196.90"/><line x1="673.8" y1="196.90" x2="670.4" y2="196.90"/><path d="M412.2 0.7 L412.2 196.9 L673.8 196.9 L673.8 0.7" fill="none"/><line x1="411.34999999999997" y1="0.7" x2="674.65" y2="0.7" stroke="#383838"/></g>
<g class="tk"><text x="441.27" y="219.10" text-anchor="middle">1.5</text><text x="499.40" y="219.10" text-anchor="middle">2</text><text x="557.53" y="219.10" text-anchor="middle">2.5</text><text x="615.67" y="219.10" text-anchor="middle">3</text><text x="673.80" y="219.10" text-anchor="middle">3.5</text><text x="406.70" y="29.60" text-anchor="end">0.2</text><text x="406.70" y="73.20" text-anchor="end">0</text><text x="406.70" y="116.80" text-anchor="end">-0.2</text><text x="406.70" y="160.40" text-anchor="end">-0.4</text><text x="406.70" y="204.00" text-anchor="end">-0.6</text></g>
<g stroke="#1e1e1e" stroke-width="1.7" fill="none"><line x1="441.27" y1="482.7" x2="441.27" y2="479.3"/><line x1="441.27" y1="286.9" x2="441.27" y2="290.29999999999995"/><line x1="499.40" y1="482.7" x2="499.40" y2="479.3"/><line x1="499.40" y1="286.9" x2="499.40" y2="290.29999999999995"/><line x1="557.53" y1="482.7" x2="557.53" y2="479.3"/><line x1="557.53" y1="286.9" x2="557.53" y2="290.29999999999995"/><line x1="615.67" y1="482.7" x2="615.67" y2="479.3"/><line x1="615.67" y1="286.9" x2="615.67" y2="290.29999999999995"/><line x1="673.80" y1="482.7" x2="673.80" y2="479.3"/><line x1="673.80" y1="286.9" x2="673.80" y2="290.29999999999995"/><line x1="412.2" y1="286.90" x2="415.59999999999997" y2="286.90"/><line x1="673.8" y1="286.90" x2="670.4" y2="286.90"/><line x1="412.2" y1="326.06" x2="415.59999999999997" y2="326.06"/><line x1="673.8" y1="326.06" x2="670.4" y2="326.06"/><line x1="412.2" y1="365.22" x2="415.59999999999997" y2="365.22"/><line x1="673.8" y1="365.22" x2="670.4" y2="365.22"/><line x1="412.2" y1="404.38" x2="415.59999999999997" y2="404.38"/><line x1="673.8" y1="404.38" x2="670.4" y2="404.38"/><line x1="412.2" y1="443.54" x2="415.59999999999997" y2="443.54"/><line x1="673.8" y1="443.54" x2="670.4" y2="443.54"/><line x1="412.2" y1="482.70" x2="415.59999999999997" y2="482.70"/><line x1="673.8" y1="482.70" x2="670.4" y2="482.70"/><rect x="412.2" y="286.9" width="261.60" height="195.80" fill="none"/></g>
<g class="tk"><text x="441.27" y="504.90" text-anchor="middle">1.5</text><text x="499.40" y="504.90" text-anchor="middle">2</text><text x="557.53" y="504.90" text-anchor="middle">2.5</text><text x="615.67" y="504.90" text-anchor="middle">3</text><text x="673.80" y="504.90" text-anchor="middle">3.5</text><text x="406.70" y="294.00" text-anchor="end">1.4</text><text x="406.70" y="333.16" text-anchor="end">1.3</text><text x="406.70" y="372.32" text-anchor="end">1.2</text><text x="406.70" y="411.48" text-anchor="end">1.1</text><text x="406.70" y="450.64" text-anchor="end">1</text><text x="406.70" y="489.80" text-anchor="end">0.9</text></g>
<g stroke="#1a1a1a" stroke-width="1.6" fill="none" stroke-linejoin="miter">
<path d="M57.2 372.6 L57.2 283 M50.6 289.3 L57.2 282.4 L63.8 289.3"/>
<path d="M57.2 372.6 L318 372.6 M311.6 365.8 L318.6 372.6 L311.6 379.4"/>
<path d="M57.2 482.4 L57.2 392.8 M50.6 399.1 L57.2 392.2 L63.8 399.1"/>
<path d="M57.2 482.4 L318 482.4 M311.6 475.6 L318.6 482.4 L311.6 489.2"/>
</g>
<path d="M57.50 288.50L58.81 288.50L60.13 288.50L61.44 288.50L62.75 288.50L64.07 288.50L65.38 288.50L66.69 288.50L68.00 288.50L69.32 288.50L70.63 288.50L71.94 288.50L73.26 288.50L74.57 288.50L75.88 288.50L77.20 288.50L78.51 288.50L79.82 288.50L81.14 288.50L82.45 288.50L83.76 288.50L85.07 288.50L86.39 288.50L87.70 288.50L89.01 288.50L90.33 288.50L91.64 288.51L92.95 288.51L94.27 288.51L95.58 288.51L96.89 288.51L98.21 288.52L99.52 288.52L100.83 288.53L102.14 288.54L103.46 288.55L104.77 288.56L106.08 288.58L107.40 288.60L108.71 288.62L110.02 288.65L111.34 288.68L112.65 288.73L113.96 288.78L115.27 288.84L116.59 288.91L117.90 289.00L119.21 289.11L120.53 289.23L121.84 289.38L123.15 289.55L124.47 289.75L125.78 289.99L127.09 290.26L128.41 290.58L129.72 290.94L131.03 291.36L132.34 291.83L133.66 292.38L134.97 292.99L136.28 293.68L137.60 294.46L138.91 295.33L140.22 296.30L141.54 297.37L142.85 298.55L144.16 299.86L145.48 301.28L146.79 302.83L148.10 304.52L149.41 306.33L150.73 308.28L152.04 310.37L153.35 312.59L154.67 314.94L155.98 317.41L157.29 320.01L158.61 322.71L159.92 325.51L161.23 328.39L162.55 331.35L163.86 334.36L165.17 337.41L166.48 340.47L167.80 343.52L169.11 346.54L170.42 349.52L171.74 352.41L173.05 355.20L174.36 357.86L175.68 360.37L176.99 362.70L178.30 364.84L179.62 366.75L180.93 368.42L182.24 369.84L183.55 370.98L184.87 371.84L186.18 372.41L187.49 372.68L188.81 372.64L190.12 372.31L191.43 371.67L192.75 370.75L194.06 369.54L195.37 368.06L196.68 366.33L198.00 364.37L199.31 362.19L200.62 359.81L201.94 357.26L203.25 354.57L204.56 351.76L205.88 348.84L207.19 345.86L208.50 342.82L209.82 339.77L211.13 336.71L212.44 333.67L213.75 330.67L215.07 327.73L216.38 324.86L217.69 322.08L219.01 319.40L220.32 316.84L221.63 314.39L222.95 312.07L224.26 309.88L225.57 307.83L226.89 305.91L228.20 304.12L229.51 302.47L230.82 300.94L232.14 299.55L233.45 298.27L234.76 297.11L236.08 296.07L237.39 295.12L238.70 294.27L240.02 293.52L241.33 292.84L242.64 292.25L243.96 291.72L245.27 291.26L246.58 290.85L247.89 290.50L249.21 290.19L250.52 289.93L251.83 289.70L253.15 289.51L254.46 289.34L255.77 289.20L257.09 289.08L258.40 288.98L259.71 288.90L261.03 288.82L262.34 288.77L263.65 288.72L264.96 288.68L266.28 288.64L267.59 288.61L268.90 288.59L270.22 288.57L271.53 288.56L272.84 288.55L274.16 288.54L275.47 288.53L276.78 288.52L278.09 288.52L279.41 288.51L280.72 288.51L282.03 288.51L283.35 288.51L284.66 288.50L285.97 288.50L287.29 288.50L288.60 288.50L289.91 288.50L291.23 288.50L292.54 288.50L293.85 288.50L295.16 288.50L296.48 288.50L297.79 288.50L299.10 288.50L300.42 288.50L301.73 288.50L303.04 288.50L304.36 288.50L305.67 288.50L306.98 288.50L308.30 288.50L309.61 288.50L310.92 288.50L312.23 288.50L313.55 288.50L314.86 288.50L316.17 288.50L317.49 288.50L318.80 288.50" fill="none" stroke="#000" stroke-width="1.6"/>
<path d="M57.50 398.70L58.81 398.70L60.13 398.70L61.44 398.70L62.75 398.70L64.07 398.70L65.38 398.70L66.69 398.70L68.00 398.70L69.32 398.70L70.63 398.70L71.94 398.70L73.26 398.70L74.57 398.70L75.88 398.70L77.20 398.70L78.51 398.70L79.82 398.70L81.14 398.70L82.45 398.70L83.76 398.70L85.07 398.70L86.39 398.70L87.70 398.70L89.01 398.70L90.33 398.70L91.64 398.71L92.95 398.71L94.27 398.71L95.58 398.71L96.89 398.71L98.21 398.72L99.52 398.72L100.83 398.73L102.14 398.74L103.46 398.75L104.77 398.76L106.08 398.78L107.40 398.80L108.71 398.82L110.02 398.85L111.34 398.88L112.65 398.92L113.96 398.98L115.27 399.04L116.59 399.11L117.90 399.20L119.21 399.30L120.53 399.43L121.84 399.57L123.15 399.74L124.47 399.94L125.78 400.18L127.09 400.45L128.41 400.76L129.72 401.13L131.03 401.54L132.34 402.01L133.66 402.55L134.97 403.16L136.28 403.85L137.60 404.62L138.91 405.49L140.22 406.45L141.54 407.52L142.85 408.69L144.16 409.99L145.48 411.41L146.79 412.95L148.10 414.62L149.41 416.43L150.73 418.37L152.04 420.44L153.35 422.65L154.67 424.98L155.98 427.44L157.29 430.02L158.61 432.70L159.92 435.49L161.23 438.36L162.55 441.30L163.86 444.29L165.17 447.32L166.48 450.36L167.80 453.39L169.11 456.40L170.42 459.35L171.74 462.23L173.05 465.00L174.36 467.65L175.68 470.14L176.99 472.46L178.30 474.58L179.62 476.48L180.93 478.15L182.24 479.56L183.55 480.69L184.87 481.55L186.18 482.11L187.49 482.38L188.81 482.34L190.12 482.01L191.43 481.38L192.75 480.46L194.06 479.26L195.37 477.79L196.68 476.07L198.00 474.12L199.31 471.95L200.62 469.59L201.94 467.06L203.25 464.38L204.56 461.58L205.88 458.68L207.19 455.72L208.50 452.70L209.82 449.66L211.13 446.62L212.44 443.60L213.75 440.62L215.07 437.69L216.38 434.84L217.69 432.08L219.01 429.42L220.32 426.87L221.63 424.44L222.95 422.13L224.26 419.96L225.57 417.91L226.89 416.00L228.20 414.23L229.51 412.58L230.82 411.07L232.14 409.68L233.45 408.41L234.76 407.26L236.08 406.22L237.39 405.28L238.70 404.44L240.02 403.69L241.33 403.02L242.64 402.42L243.96 401.90L245.27 401.44L246.58 401.04L247.89 400.69L249.21 400.38L250.52 400.12L251.83 399.90L253.15 399.70L254.46 399.54L255.77 399.40L257.09 399.28L258.40 399.18L259.71 399.09L261.03 399.02L262.34 398.96L263.65 398.91L264.96 398.87L266.28 398.84L267.59 398.81L268.90 398.79L270.22 398.77L271.53 398.76L272.84 398.75L274.16 398.74L275.47 398.73L276.78 398.72L278.09 398.72L279.41 398.71L280.72 398.71L282.03 398.71L283.35 398.71L284.66 398.70L285.97 398.70L287.29 398.70L288.60 398.70L289.91 398.70L291.23 398.70L292.54 398.70L293.85 398.70L295.16 398.70L296.48 398.70L297.79 398.70L299.10 398.70L300.42 398.70L301.73 398.70L303.04 398.70L304.36 398.70L305.67 398.70L306.98 398.70L308.30 398.70L309.61 398.70L310.92 398.70L312.23 398.70L313.55 398.70L314.86 398.70L316.17 398.70L317.49 398.70L318.80 398.70" fill="none" stroke="#ff1a1a" stroke-width="1.6"/>
<line x1="245" y1="372" x2="245" y2="298" stroke="#808080" stroke-width="1" stroke-dasharray="5.5 4"/>
<line x1="224.5" y1="482" x2="224.5" y2="424" stroke="#6a6a6a" stroke-width="0.9" stroke-dasharray="5.5 4"/>
<line x1="235.4" y1="291.4" x2="230.1" y2="291.4" stroke="#000" stroke-width="1.5"/>
<line x1="225.1" y1="291.4" x2="219.9" y2="291.4" stroke="#000" stroke-width="1.5"/>
<path d="M207.2 291.4 L215.80 288.25 L213.80 291.4 L215.80 294.55 Z" fill="#000" stroke="#000" stroke-width="0.5" stroke-linejoin="miter"/>
<line x1="250" y1="291.4" x2="277" y2="291.4" stroke="#000" stroke-width="1.5"/>
<path d="M283.5 291.4 L274.90 288.25 L276.90 291.4 L274.90 294.55 Z" fill="#000" stroke="#000" stroke-width="0.5" stroke-linejoin="miter"/>
<circle cx="244.8" cy="291.4" r="5.7" fill="#808080" stroke="#111" stroke-width="1.7"/>
<line x1="214.3" y1="418.6" x2="209.9" y2="418.6" stroke="#ff1a1a" stroke-width="1.5"/>
<path d="M199.9 418.6 L208.50 415.45 L206.50 418.6 L208.50 421.75 Z" fill="#ff1a1a" stroke="#ff1a1a" stroke-width="0.5" stroke-linejoin="miter"/>
<line x1="229" y1="418.6" x2="243" y2="418.6" stroke="#ff1a1a" stroke-width="1.5"/>
<path d="M249.3 418.6 L240.70 415.45 L242.70 418.6 L240.70 421.75 Z" fill="#ff1a1a" stroke="#ff1a1a" stroke-width="0.5" stroke-linejoin="miter"/>
<circle cx="224.4" cy="418.7" r="5.6" fill="#808080" stroke="#ff1a1a" stroke-width="1.9"/>
<circle cx="91.9" cy="330.7" r="25.1" fill="#000"/>
<circle cx="92.0" cy="437.3" r="25.5" fill="url(#rg)"/><circle cx="92.0" cy="437.3" r="25.0" fill="none" stroke="#222" stroke-width="0.9"/>
<text x="148.00" y="59.90" font-family="Liberation Serif" font-size="17.5" font-style="italic" fill="#222" textLength="7.98" lengthAdjust="spacingAndGlyphs">z</text>
<text x="156.80" y="62.00" font-family="Liberation Serif" font-size="12.5" font-style="italic" fill="#222" textLength="12.21" lengthAdjust="spacingAndGlyphs">eq</text>
<text x="459.90" y="60.30" font-family="Liberation Serif" font-size="17.5" font-style="italic" fill="#222" textLength="7.98" lengthAdjust="spacingAndGlyphs">z</text>
<text x="468.70" y="62.60" font-family="Liberation Serif" font-size="12.5" font-style="italic" fill="#222" textLength="11.81" lengthAdjust="spacingAndGlyphs">eq</text>
<line x1="243.2" y1="124.9" x2="267.7" y2="124.9" stroke="#000" stroke-width="2.2"/>
<line x1="243.2" y1="143.1" x2="267.7" y2="143.1" stroke="#3479c4" stroke-width="1.5"/>
<line x1="243.2" y1="161.3" x2="267.7" y2="161.3" stroke="#D95319" stroke-width="1.5"/>
<line x1="243.2" y1="179.6" x2="267.7" y2="179.6" stroke="#EDB120" stroke-width="1.5"/>
<text x="270.70" y="128.90" font-family="Liberation Serif" font-size="16.5" font-style="italic" fill="#222" textLength="10.70" lengthAdjust="spacingAndGlyphs">F</text>
<text x="280.00" y="131.00" font-family="Liberation Serif" font-size="11" font-style="italic" fill="#222" textLength="5.46" lengthAdjust="spacingAndGlyphs">z</text>
<text x="270.70" y="146.80" font-family="Liberation Serif" font-size="16.5" font-style="italic" fill="#222" textLength="10.70" lengthAdjust="spacingAndGlyphs">F</text>
<text x="280.00" y="148.90" font-family="Liberation Serif" font-size="11" font-style="italic" fill="#222" textLength="25.16" lengthAdjust="spacingAndGlyphs">z,ED</text>
<text x="270.70" y="165.50" font-family="Liberation Serif" font-size="16.5" font-style="italic" fill="#222" textLength="10.70" lengthAdjust="spacingAndGlyphs">F</text>
<text x="280.10" y="167.60" font-family="Liberation Serif" font-size="11" font-style="italic" fill="#222" textLength="28.47" lengthAdjust="spacingAndGlyphs">z,MD</text>
<text x="270.70" y="183.60" font-family="Liberation Serif" font-size="16.5" font-style="italic" fill="#222" textLength="10.70" lengthAdjust="spacingAndGlyphs">F</text>
<text x="280.00" y="185.70" font-family="Liberation Serif" font-size="11" font-style="italic" fill="#222" textLength="24.37" lengthAdjust="spacingAndGlyphs">z,EQ</text>
<line x1="591.8" y1="303.9" x2="617.8" y2="303.9" stroke="#000" stroke-width="1.7" stroke-dasharray="6 4"/>
<line x1="591.8" y1="322" x2="617.8" y2="322" stroke="#000" stroke-width="1.7"/>
<line x1="591.8" y1="340.6" x2="617.8" y2="340.6" stroke="#ff1a1a" stroke-width="1.7" stroke-dasharray="6 4"/>
<line x1="591.8" y1="359" x2="617.8" y2="359" stroke="#ff1a1a" stroke-width="1.7"/>
<line x1="625" y1="301.8" x2="631.9" y2="301.8" stroke="#555" stroke-width="0.8"/>
<line x1="625" y1="338.4" x2="631.9" y2="338.4" stroke="#555" stroke-width="0.8"/>
<text x="631.50" y="307.70" font-family="Liberation Serif" font-size="16.5" font-style="italic" fill="#222" textLength="11.31" lengthAdjust="spacingAndGlyphs">F</text>
<text x="640.70" y="310.20" font-family="Liberation Serif" font-size="11" font-style="italic" fill="#222" textLength="13.46" lengthAdjust="spacingAndGlyphs">g,<tspan font-style="normal">0</tspan></text>
<text x="620.20" y="325.30" font-family="Liberation Serif" font-size="16.5" font-style="italic" fill="#222" textLength="11.20" lengthAdjust="spacingAndGlyphs">F</text>
<text x="629.00" y="327.80" font-family="Liberation Serif" font-size="11" font-style="italic" fill="#222" textLength="12.43" lengthAdjust="spacingAndGlyphs">s,<tspan font-style="normal">0</tspan></text>
<text x="631.50" y="344.50" font-family="Liberation Serif" font-size="16.5" font-style="italic" fill="#222" textLength="11.31" lengthAdjust="spacingAndGlyphs">F</text>
<text x="640.70" y="347.00" font-family="Liberation Serif" font-size="11" font-style="italic" fill="#222" textLength="21.83" lengthAdjust="spacingAndGlyphs">g,opt</text>
<text x="620.20" y="362.50" font-family="Liberation Serif" font-size="16.5" font-style="italic" fill="#222" textLength="11.20" lengthAdjust="spacingAndGlyphs">F</text>
<text x="629.00" y="365.00" font-family="Liberation Serif" font-size="11" font-style="italic" fill="#222" textLength="21.80" lengthAdjust="spacingAndGlyphs">s,opt</text>
<text x="31.02" y="335.70" font-family="Liberation Serif" font-size="19.5" font-style="italic" fill="#222" textLength="13.99" lengthAdjust="spacingAndGlyphs">U</text>
<text x="44.70" y="338.50" font-family="Liberation Serif" font-size="13.5" font-style="italic" fill="#222" textLength="6.46" lengthAdjust="spacingAndGlyphs"><tspan font-style="normal">0</tspan></text>
<text x="19.67" y="445.70" font-family="Liberation Serif" font-size="19.5" font-style="italic" fill="#222" textLength="14.31" lengthAdjust="spacingAndGlyphs">U</text>
<text x="34.00" y="447.80" font-family="Liberation Serif" font-size="13.5" font-style="italic" fill="#222" textLength="16.50" lengthAdjust="spacingAndGlyphs">opt</text>
<text x="198.00" y="304.10" font-family="Liberation Serif" font-size="15.5" font-style="italic" fill="#222" textLength="9.66" lengthAdjust="spacingAndGlyphs">F</text>
<text x="206.80" y="306.50" font-family="Liberation Serif" font-size="10.5" font-style="italic" fill="#222" textLength="14.03" lengthAdjust="spacingAndGlyphs">g,<tspan font-style="normal">0</tspan></text>
<text x="254.20" y="304.10" font-family="Liberation Serif" font-size="15.5" font-style="italic" fill="#222" textLength="9.66" lengthAdjust="spacingAndGlyphs">F</text>
<text x="263.00" y="306.50" font-family="Liberation Serif" font-size="10.5" font-style="italic" fill="#222" textLength="13.86" lengthAdjust="spacingAndGlyphs">s,<tspan font-style="normal">0</tspan></text>
<text x="185.10" y="431.80" font-family="Liberation Serif" font-size="15.5" font-style="italic" fill="#222" textLength="9.66" lengthAdjust="spacingAndGlyphs">F</text>
<text x="194.00" y="434.20" font-family="Liberation Serif" font-size="10.5" font-style="italic" fill="#222" textLength="21.10" lengthAdjust="spacingAndGlyphs">g,opt</text>
<text x="230.40" y="431.80" font-family="Liberation Serif" font-size="15.5" font-style="italic" fill="#222" textLength="9.66" lengthAdjust="spacingAndGlyphs">F</text>
<text x="239.30" y="434.20" font-family="Liberation Serif" font-size="10.5" font-style="italic" fill="#222" textLength="21.15" lengthAdjust="spacingAndGlyphs">s,opt</text>
<text x="246.00" y="383.10" font-family="Liberation Serif" font-size="13" font-style="italic" fill="#222" textLength="5.26" lengthAdjust="spacingAndGlyphs">z</text>
<text x="251.90" y="385.20" font-family="Liberation Serif" font-size="9.5" font-style="italic" fill="#222" textLength="9.77" lengthAdjust="spacingAndGlyphs">eq</text>
<text x="220.30" y="492.90" font-family="Liberation Serif" font-size="14.2" font-style="italic" fill="#222" textLength="6.86" lengthAdjust="spacingAndGlyphs">z</text>
<text x="226.90" y="494.90" font-family="Liberation Serif" font-size="10" font-style="italic" fill="#222" textLength="10.40" lengthAdjust="spacingAndGlyphs">eq</text>
<text x="184.20" y="393.90" font-family="Liberation Serif" font-size="17.6" fill="#222" textLength="7.71" lengthAdjust="spacingAndGlyphs">z</text>
<text x="184.20" y="503.70" font-family="Liberation Serif" font-size="17.6" fill="#222" textLength="7.71" lengthAdjust="spacingAndGlyphs">z</text>
<!-- labels -->
<text class="bd" x="59.6" y="191.2" font-size="24.5">a</text>
<text class="bd" x="416" y="193.3" font-size="24.5">b</text>
<text class="bd" x="61.8" y="477.2" font-size="24.5">c</text>
<text class="bd" x="416" y="477.3" font-size="24.5">d</text>
<text class="sr" font-size="19.5" transform="translate(14.4 142.50) rotate(-90)" textLength="43.6" lengthAdjust="spacingAndGlyphs">Force</text><text class="sr" font-size="19.5" transform="translate(14.4 92.90) rotate(-90)" textLength="36.72" lengthAdjust="spacingAndGlyphs">(pN)</text><text class="sr" font-size="19.5" transform="translate(368.9 142.80) rotate(-90)" textLength="43.6" lengthAdjust="spacingAndGlyphs">Force</text><text class="sr" font-size="19.5" transform="translate(368.9 93.20) rotate(-90)" textLength="36.72" lengthAdjust="spacingAndGlyphs">(pN)</text><text class="sr" font-size="19.5" transform="translate(373.9 427.90) rotate(-90)" textLength="43.6" lengthAdjust="spacingAndGlyphs">Force</text><text class="sr" font-size="19.5" transform="translate(373.9 378.30) rotate(-90)" textLength="36.72" lengthAdjust="spacingAndGlyphs">(pN)</text>
<text class="sr" font-size="19" x="160.40" y="239.8" textLength="7.7" lengthAdjust="spacingAndGlyphs">z</text><text class="sr" font-size="19" x="174.66" y="239.8" textLength="40.89" lengthAdjust="spacingAndGlyphs">(<tspan font-style="italic">μm</tspan>)</text><text class="sr" font-size="19" x="515.10" y="239.5" textLength="7.7" lengthAdjust="spacingAndGlyphs">z</text><text class="sr" font-size="19" x="529.36" y="239.5" textLength="40.89" lengthAdjust="spacingAndGlyphs">(<tspan font-style="italic">μm</tspan>)</text><text class="sr" font-size="19" x="515.10" y="525.1" textLength="7.7" lengthAdjust="spacingAndGlyphs">z</text><text class="sr" font-size="19" x="529.36" y="525.1" textLength="40.89" lengthAdjust="spacingAndGlyphs">(<tspan font-style="italic">μm</tspan>)</text>
</svg>
</body></html>
